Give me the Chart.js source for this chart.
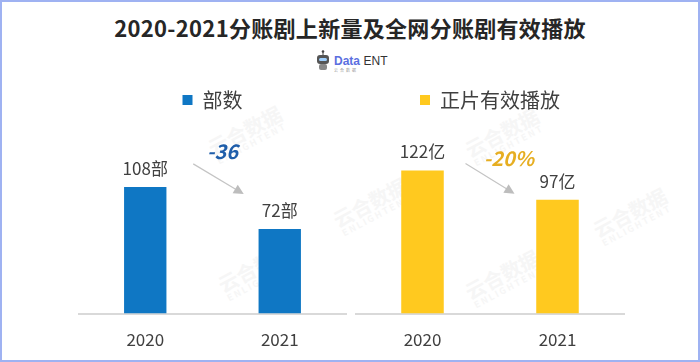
<!DOCTYPE html>
<html>
<head>
<meta charset="utf-8">
<script src="https://cdn.jsdelivr.net/npm/chart.js@4.4.0/dist/chart.umd.min.js"></script>
<style>
  html, body { margin: 0; padding: 0; background: #fff; }
  #frame {
    position: relative; width: 700px; height: 362px; box-sizing: border-box;
    border: 2px solid #9fb2f2; overflow: hidden; background: #fff;
    font-family: "Noto Sans CJK SC", "Noto Sans", sans-serif;
  }
  #title {
    position: absolute; left: 0; top: 9px; width: 696px; text-align: center;
    font-size: 22px; font-weight: bold; color: #262626; letter-spacing: 0.3px;
  }
  #logo {
    position: absolute; left: 313px; top: 48px; height: 22px; display: flex; align-items: center;
  }
  #logo .txt { margin-left: 3px; line-height: 1; }
  #logo .d { color: #5b6fe0; font-weight: bold; font-size: 12px; font-family: "Liberation Sans", sans-serif; }
  #logo .e { color: #333; font-size: 12px; font-family: "Liberation Sans Narrow", "Liberation Sans", sans-serif; }
  #logo .s { display: block; font-size: 4px; color: #999; letter-spacing: 2px; margin-top: 1px; }
  .wm {
    position: absolute; color: #f6f6f6; font-weight: bold; font-size: 20px;
    transform: rotate(-28deg); line-height: 1; text-align: center; white-space: nowrap;
  }
  .wm span { display: block; font-size: 9px; letter-spacing: 2px; }
  .box { position: absolute; top: 78px; height: 284px; }
</style>
</head>
<body>
<div id="frame">
  <div class="wm" style="left:205px;top:118px">云合数据<span>ENLIGHTENT</span></div>
  <div class="wm" style="left:215px;top:255px">云合数据<span>ENLIGHTENT</span></div>
  <div class="wm" style="left:330px;top:190px">云合数据<span>ENLIGHTENT</span></div>
  <div class="wm" style="left:462px;top:120px">云合数据<span>ENLIGHTENT</span></div>
  <div class="wm" style="left:462px;top:262px">云合数据<span>ENLIGHTENT</span></div>
  <div class="wm" style="left:590px;top:200px">云合数据<span>ENLIGHTENT</span></div>
  <div id="title">2020-2021分账剧上新量及全网分账剧有效播放</div>
  <div id="logo">
    <svg width="16" height="22" viewBox="0 0 16 22">
      <line x1="8" y1="1" x2="8" y2="5" stroke="#444" stroke-width="1"/>
      <circle cx="8" cy="1.5" r="1.3" fill="#444"/>
      <rect x="2" y="5" width="12" height="9" rx="3" fill="#555"/>
      <rect x="4" y="8" width="8" height="3" rx="1.5" fill="#9fd0ff"/>
      <rect x="4" y="14" width="8" height="6" rx="2" fill="#888"/>
    </svg>
    <div class="txt"><span class="d">Data</span> <span class="e">ENT</span><span class="s">云合数据</span></div>
  </div>
  <div class="box" style="left:76px;width:269px"><canvas id="c1"></canvas></div>
  <div class="box" style="left:353px;width:270px"><canvas id="c2"></canvas></div>
</div>
<script>
const years = ['2020', '2021'];
const dramaCount = [108, 72];
const dramaUnit = '部';
const dramaChange = '-36';
const playViews = [122, 97];
const playUnit = '亿';
const playChange = '-20%';
const yMax = 165;

const labelPlugin = {
  id: 'labels',
  afterDatasetsDraw(chart, args, opts) {
    const ctx = chart.ctx;
    const meta = chart.getDatasetMeta(0);
    const data = chart.data.datasets[0].data;
    ctx.save();
    ctx.font = '17px "Noto Sans CJK SC", "Noto Sans", sans-serif';
    ctx.fillStyle = '#404040';
    ctx.textAlign = 'center';
    ctx.textBaseline = 'bottom';
    meta.data.forEach((bar, i) => {
      ctx.fillText(data[i] + opts.unit, bar.x, bar.y - 10);
    });
    // arrow between bars
    const b0 = meta.data[0], b1 = meta.data[1];
    const x0 = b0.x + opts.arrow[0], y0 = b0.y + opts.arrow[1];
    const x1 = b1.x + opts.arrow[2], y1 = b1.y + opts.arrow[3];
    ctx.strokeStyle = '#c4c4c4';
    ctx.fillStyle = '#bdbdbd';
    ctx.lineWidth = 1.2;
    const ang = Math.atan2(y1 - y0, x1 - x0);
    ctx.beginPath();
    ctx.moveTo(x0, y0);
    ctx.lineTo(x1 - 8 * Math.cos(ang), y1 - 8 * Math.sin(ang));
    ctx.stroke();
    ctx.beginPath();
    ctx.moveTo(x1, y1);
    ctx.lineTo(x1 - 10 * Math.cos(ang) + 5 * Math.sin(ang), y1 - 10 * Math.sin(ang) - 5 * Math.cos(ang));
    ctx.lineTo(x1 - 10 * Math.cos(ang) - 5 * Math.sin(ang), y1 - 10 * Math.sin(ang) + 5 * Math.cos(ang));
    ctx.closePath();
    ctx.fill();
    // change text
    ctx.font = 'italic bold 20px "Noto Sans CJK SC", "Noto Sans", sans-serif';
    ctx.fillStyle = opts.changeColor;
    ctx.textBaseline = 'middle';
    ctx.fillText(opts.change, (b0.x + b1.x) / 2 + opts.changeOff[0], b0.y + opts.changeOff[1]);
    ctx.restore();
  }
};

function makeChart(id, label, values, color, labelOpts) {
  return new Chart(document.getElementById(id), {
    type: 'bar',
    data: {
      labels: years,
      datasets: [{
        label: label,
        data: values,
        backgroundColor: color,
        barPercentage: 0.315,
        categoryPercentage: 1
      }]
    },
    plugins: [labelPlugin],
    options: {
      responsive: true,
      maintainAspectRatio: false,
      animation: false,
      layout: { padding: { left: 0, right: 0, top: 0, bottom: 6 } },
      plugins: {
        legend: {
          display: true,
          labels: {
            boxWidth: 10, boxHeight: 10, padding: 10, color: '#404040',
            font: { size: 20, family: '"Noto Sans CJK SC", "Noto Sans", sans-serif' }
          }
        },
        tooltip: { enabled: false },
        labels: labelOpts
      },
      scales: {
        x: {
          grid: { display: false },
          border: { display: true, color: '#d9d9d9', width: 2 },
          ticks: {
            padding: 8, color: '#404040',
            font: { size: 17, family: '"Noto Sans CJK SC", "Noto Sans", sans-serif' }
          }
        },
        y: { display: false, min: 0, max: yMax }
      }
    }
  });
}

makeChart('c1', '部数', dramaCount, '#0f77c4', {
  unit: dramaUnit, change: dramaChange, changeColor: '#1f5eaa',
  arrow: [48, -23, -36, -35], changeOff: [10, -35]
});
makeChart('c2', '正片有效播放', playViews, '#ffc91f', {
  unit: playUnit, change: playChange, changeColor: '#e6ae22',
  arrow: [43, -7, -43, -6], changeOff: [19, -12]
});
</script>
</body>
</html>
